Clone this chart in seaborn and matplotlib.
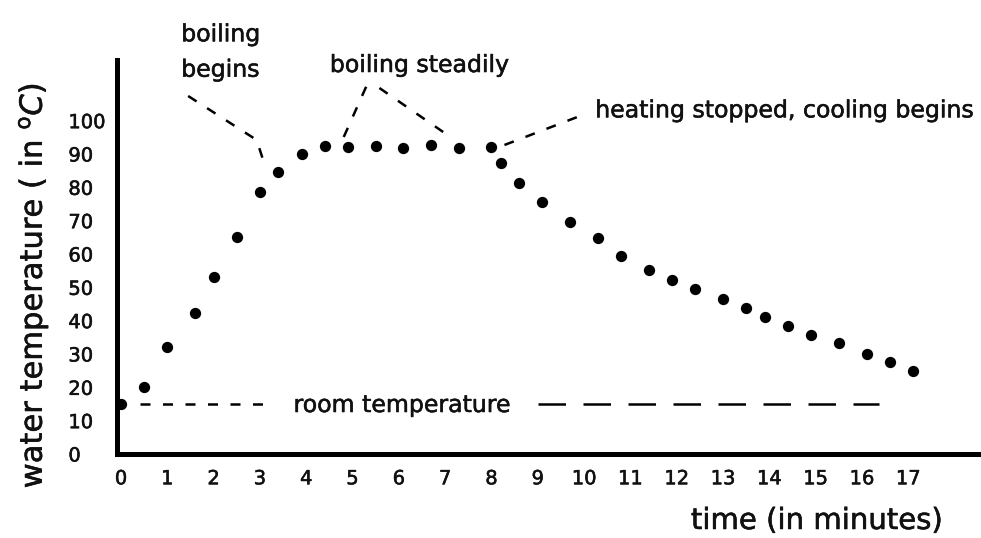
import matplotlib
matplotlib.use("Agg")
import matplotlib.pyplot as plt
import matplotlib.patheffects as pe
import seaborn as sns
import pandas as pd

# Heating and cooling of a pot of water
minutes = [0, 0.5, 1, 1.6, 2, 2.5, 3, 3.4, 3.9, 4.4, 4.9, 5.5, 6.1, 6.7, 7.3, 8.0,
           8.2, 8.6, 9.1, 9.7, 10.3, 10.8, 11.4, 11.9, 12.4, 13.0, 13.5, 13.9,
           14.4, 14.9, 15.5, 16.1, 16.6, 17.1]
temperature = [15, 20, 32, 42.2, 53.2, 65.2, 78.5, 84.7, 89.9, 92.5, 92.1, 92.5,
               91.7, 92.7, 91.7, 92.2, 87.2, 81.2, 75.5, 69.5, 64.7, 59.5, 55.2,
               52.2, 49.6, 46.5, 43.7, 41.0, 38.3, 35.7, 33.2, 30.1, 27.5, 25.0]
room_temp = 15
x_ticks = list(range(0, 18))
y_ticks = list(range(0, 101, 10))

df = pd.DataFrame({"minutes": minutes, "temperature": temperature})

sns.set_style("white")
plt.rcParams["font.family"] = ["DejaVu Sans"]

# slightly heavier strokes for all lettering
ink = [pe.withStroke(linewidth=0.4, foreground="#111111")]

fig = plt.figure(figsize=(9.81, 5.38), dpi=100)
ax = fig.add_axes([117 / 981, 1 - 454 / 538, 1 - 117 / 981, (454 - 60) / 538])

sns.scatterplot(data=df, x="minutes", y="temperature", ax=ax, color="black",
                s=66, linewidth=0, zorder=4, clip_on=False)

ax.set_xlim(-0.086, 18.57)
ax.set_ylim(0, 118.2)
ax.set_xlabel("")
ax.set_ylabel("")

ax.set_xticks(x_ticks)
ax.set_yticks(y_ticks)
ax.set_xticklabels([str(t) for t in x_ticks])
ax.set_yticklabels([str(t) for t in y_ticks])
ax.tick_params(axis="x", direction="in", length=7.5, width=1.6, pad=11,
               labelsize=14, color="black", labelcolor="#111111")
ax.tick_params(axis="y", direction="out", length=8.5, width=1.6, pad=26.5,
               labelsize=14, color="black", labelcolor="#111111")
plt.setp(ax.get_yticklabels(), ha="left", path_effects=ink)
plt.setp(ax.get_xticklabels(), path_effects=ink)
ax.xaxis.get_major_ticks()[0].tick1line.set_visible(False)
ax.yaxis.get_major_ticks()[0].tick1line.set_visible(False)
ax.yaxis.get_major_ticks()[-1].tick1line.set_visible(False)

sns.despine(ax=ax)
for side in ("left", "bottom"):
    ax.spines[side].set_linewidth(3.6)
    ax.spines[side].set_color("black")

dash_kw = dict(color="black", lw=1.8, clip_on=False, zorder=3)
txt_kw = dict(fontsize=17, color="#111111", clip_on=False, path_effects=ink)

# room temperature reference line
ax.plot([0.42, 3.1], [room_temp, room_temp], ls=(0, (4, 5)), **dash_kw)
ax.plot([9.0, 16.37], [room_temp, room_temp], ls=(0, (11, 7)), **dash_kw)
ax.text(6.07, 12.6, "room temperature", ha="center", va="baseline", **txt_kw)

# boiling begins
ax.plot([1.45, 2.93, 3.09], [107.4, 94.2, 87.3], ls=(0, (4, 5)), **dash_kw)
ax.text(1.3, 120.6, "boiling\nbegins", ha="left", va="center",
        linespacing=1.6, **txt_kw)

# boiling steadily
ax.plot([4.81, 5.33], [95.1, 111.3], ls=(0, (4, 5)), **dash_kw)
ax.plot([5.58, 7.02], [109.8, 96.0], ls=(0, (4, 5)), **dash_kw)
ax.text(4.51, 114.6, "boiling steadily", ha="left", va="baseline", **txt_kw)

# heating stopped
ax.plot([8.28, 9.91], [92.7, 101.4], ls=(0, (4, 5)), **dash_kw)
ax.text(10.24, 101.0, "heating stopped, cooling begins", ha="left",
        va="baseline", **txt_kw)

fig.text(33 / 981, 1 - 286 / 538, r"water temperature ( in $^{\rm o}C$)",
         rotation=90, ha="center", va="center", fontsize=22, color="#111111",
         path_effects=ink)
fig.text(817 / 981, 1 - 521 / 538, "time (in minutes)", ha="center",
         va="center", fontsize=21, color="#111111", path_effects=ink)

fig.savefig("out.png", dpi=100)
